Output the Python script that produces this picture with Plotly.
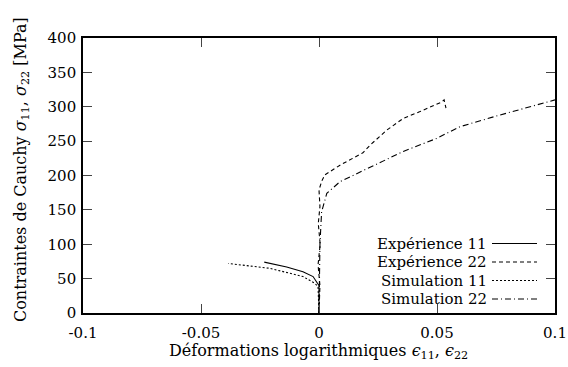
import plotly.graph_objects as go

# ---- data ----
exp11_x = [0.0, 0.0, -0.0006, -0.0025, -0.0068, -0.0137, -0.0232]
exp11_y = [0, 40, 43, 53, 60, 67, 74]

exp22_x = [0.0, 0.0004, -0.0004, 0.0005, -0.0003, 0.0004, 0.0, 0.0012, 0.0025, 0.0089, 0.0186,
           0.0216, 0.0287, 0.0357, 0.0428, 0.0520, 0.0530, 0.0538]
exp22_y = [0, 40, 70, 100, 130, 155, 179, 192, 201, 215, 233,
           244, 266, 283, 293, 307, 310, 298]

sim11_x = [0.0, -0.0004, -0.0017, -0.0068, -0.0208, -0.0384]
sim11_y = [0, 38, 43, 53, 65, 72]

sim22_x = [0.0, 0.0004, 0.0011, 0.0033, 0.0089, 0.0202, 0.025, 0.0357, 0.0499,
           0.0555, 0.0597, 0.0767, 0.0979, 0.1]
sim22_y = [0, 100, 147, 174, 191, 210, 218, 235, 254,
           264, 271, 288, 307, 310]

legend_names = ["Expérience 11", "Expérience 22", "Simulation 11", "Simulation 22"]
dashes = ["solid", "4px,3px", "2px,2px", "6px,3px,1px,3px"]

x_ticks = [-0.1, -0.05, 0, 0.05, 0.1]
x_ticktext = ["-0.1", "-0.05", "0", "0.05", "0.1"]
y_ticks = [0, 50, 100, 150, 200, 250, 300, 350, 400]

x_title = "Déformations logarithmiques <i>ϵ</i><sub>11</sub>, <i>ϵ</i><sub>22</sub>"
y_title = "Contraintes de Cauchy <i>σ</i><sub>11</sub>, <i>σ</i><sub>22</sub> [MPa]"

FONT = "DejaVu Serif"
FS = 15

fig = go.Figure()
series = [(exp11_x, exp11_y), (exp22_x, exp22_y), (sim11_x, sim11_y), (sim22_x, sim22_y)]
for (xs, ys), name, d in zip(series, legend_names, dashes):
    fig.add_trace(go.Scatter(x=xs, y=ys, mode="lines", name=name,
                             line=dict(color="black", width=1.1, dash=d),
                             showlegend=False))

# custom legend (text left of line sample, as in the reference)
L, T, W, H = 83.0, 38.0, 472.0, 275.0
def px_x(px):
    return (px - L) / W
def px_y(py):
    return (T + H - py) / H

rows_px = [243.5, 262.0, 280.5, 299.0]
for name, d, py in zip(legend_names, dashes, rows_px):
    fig.add_annotation(x=px_x(489), y=px_y(py), xref="paper", yref="paper",
                       text=name, showarrow=False, xanchor="right", yanchor="middle",
                       font=dict(family=FONT, size=FS, color="black"))
    fig.add_shape(type="line", xref="paper", yref="paper",
                  x0=px_x(492), x1=px_x(537), y0=px_y(py), y1=px_y(py),
                  line=dict(color="black", width=1.1, dash=d))

# axis titles as annotations for exact placement
fig.add_annotation(x=px_x(318), y=px_y(351), xref="paper", yref="paper",
                   text=x_title, showarrow=False, xanchor="center", yanchor="middle",
                   font=dict(family=FONT, size=16, color="black"))
fig.add_annotation(x=px_x(21), y=px_y(170), xref="paper", yref="paper",
                   text=y_title, showarrow=False, xanchor="center", yanchor="middle",
                   textangle=-90, font=dict(family=FONT, size=16, color="black"))

axis_common = dict(showline=True, linecolor="black", linewidth=1.6, mirror="ticks",
                   ticks="inside", ticklen=9, tickcolor="#444", tickwidth=1,
                   showgrid=False, zeroline=False, automargin=False,
                   tickfont=dict(family=FONT, size=FS, color="black"))

fig.update_xaxes(range=[-0.1, 0.1], tickvals=x_ticks, ticktext=x_ticktext,
                 ticklabelstandoff=5, **axis_common)
fig.update_yaxes(range=[0, 400], tickvals=y_ticks, ticklabelstandoff=2, **axis_common)

fig.update_layout(width=568, height=367,
                  margin=dict(l=83, r=13, t=38, b=54),
                  plot_bgcolor="white", paper_bgcolor="white",
                  font=dict(family=FONT, color="black"))

fig.write_html("out.html", config={"displayModeBar": False},
               post_script="document.body.style.margin='0px';")
